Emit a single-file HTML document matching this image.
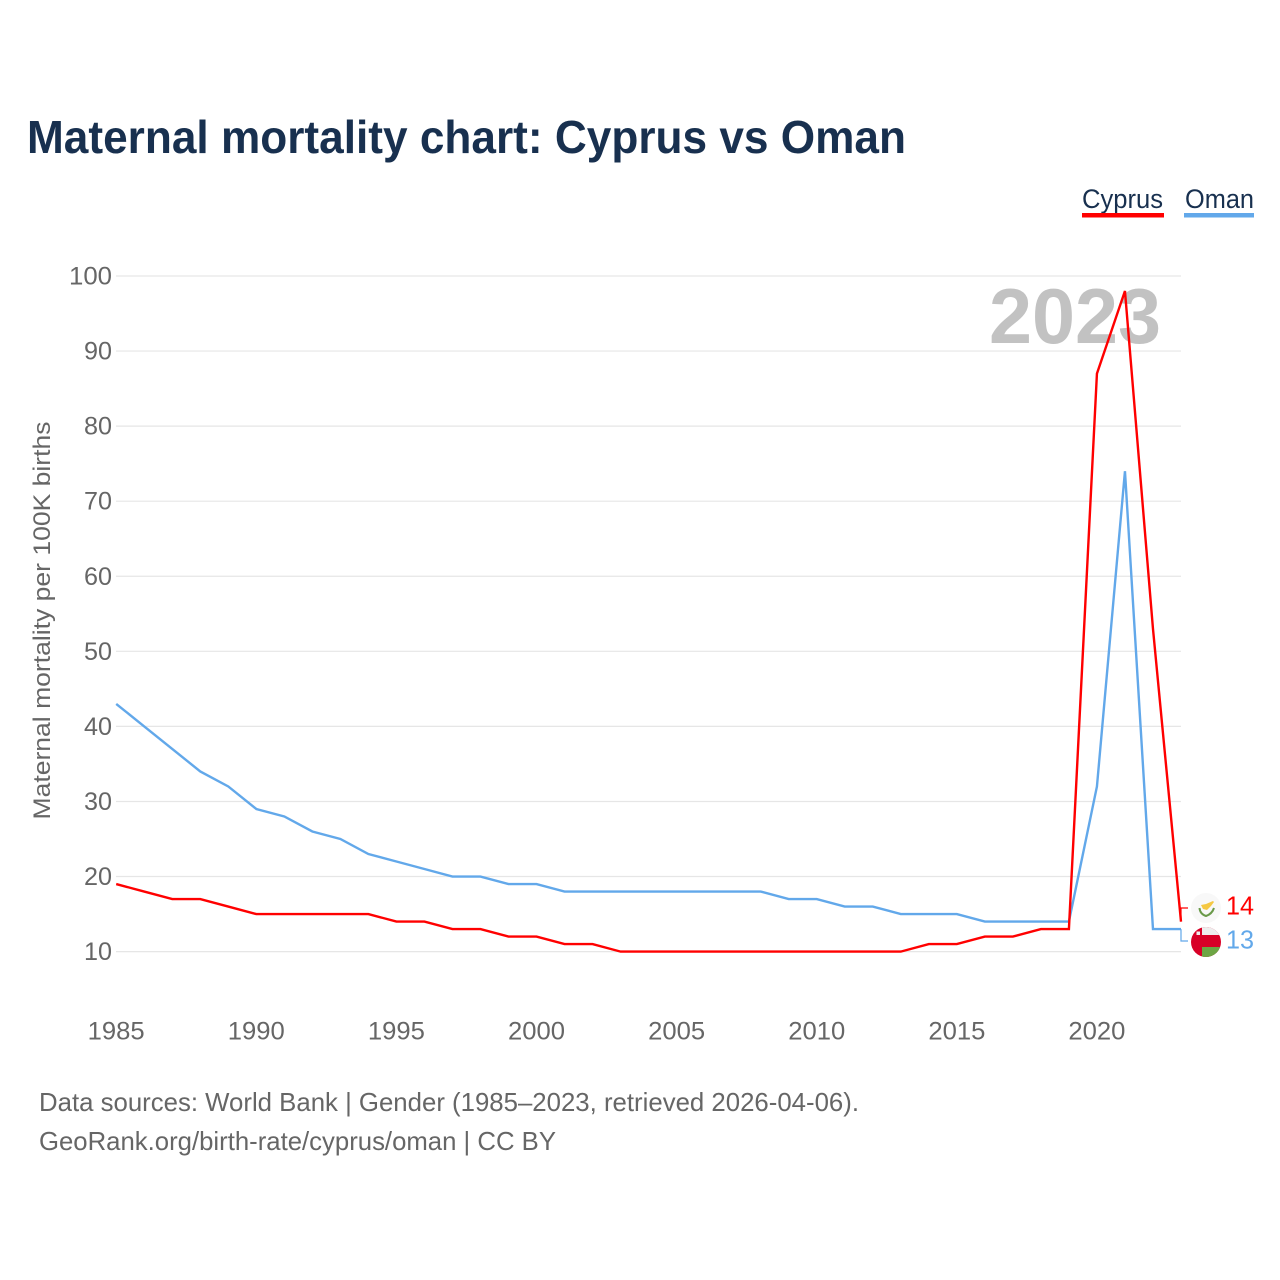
<!DOCTYPE html>
<html><head><meta charset="utf-8"><title>Maternal mortality chart</title>
<style>
html,body{margin:0;padding:0;background:#fff}
svg{display:block}
text{font-family:"Liberation Sans",sans-serif}
</style></head>
<body>
<svg id="chart" width="1280" height="1280" viewBox="0 0 1280 1280" xmlns="http://www.w3.org/2000/svg">
<rect width="1280" height="1280" fill="#fff"/>
<text x="27" y="153" font-size="46" font-weight="700" fill="#18304f" textLength="879" lengthAdjust="spacingAndGlyphs">Maternal mortality chart: Cyprus vs Oman</text>
<g id="grid"></g>
<g id="ticks"></g>
<text transform="translate(50,620.5) rotate(-90)" text-anchor="middle" font-size="24.5" fill="#666" textLength="398" lengthAdjust="spacingAndGlyphs">Maternal mortality per 100K births</text>
<text x="1161" y="343" text-anchor="end" font-size="78" font-weight="700" fill="#c2c2c2" textLength="172" lengthAdjust="spacingAndGlyphs">2023</text>
<g id="series"></g>
<g>
<text x="1082" y="208" font-size="27" fill="#18304f" textLength="81" lengthAdjust="spacingAndGlyphs">Cyprus</text>
<rect x="1082" y="213" width="82" height="4.5" fill="#ff0000"/>
</g>
<g>
<text x="1185" y="208" font-size="27" fill="#18304f" textLength="69" lengthAdjust="spacingAndGlyphs">Oman</text>
<rect x="1184" y="213" width="70" height="4.5" fill="#62a8ea"/>
</g>
<g id="endlabels">
<g>
<circle cx="1206" cy="908" r="15" fill="#f8f8f8"/>
<path d="M1201 905 L1206 904 L1213 901 L1214 902 L1211 906 L1207 910 L1203 909 Z" fill="#f5c842"/>
<path d="M1199.5 908 Q1200 914 1206 916 Q1212 914 1214 908" fill="none" stroke="#6a9a4a" stroke-width="2"/>
</g>
<g>
<clipPath id="oman-clip"><circle cx="1206" cy="942" r="15"/></clipPath>
<g clip-path="url(#oman-clip)">
<rect x="1191" y="927" width="30" height="30" fill="#d80027"/>
<rect x="1202" y="927" width="19" height="8" fill="#eeeeee"/>
<rect x="1202" y="947" width="19" height="10" fill="#6da544"/>
<rect x="1196.5" y="931.5" width="3.5" height="3.5" fill="#eeeeee"/>
</g>
</g>
<text x="1226" y="914.5" font-size="26" fill="#ff0000" textLength="28" lengthAdjust="spacingAndGlyphs">14</text>
<text x="1226" y="948.5" font-size="26" fill="#62a8ea" textLength="28" lengthAdjust="spacingAndGlyphs">13</text>
</g>
<text x="39" y="1111" font-size="26" fill="#666" textLength="820" lengthAdjust="spacingAndGlyphs">Data sources: World Bank | Gender (1985–2023, retrieved 2026-04-06).</text>
<text x="39" y="1150" font-size="26" fill="#666" textLength="517" lengthAdjust="spacingAndGlyphs">GeoRank.org/birth-rate/cyprus/oman | CC BY</text>
</svg>
<script>
const years = [1985,1986,1987,1988,1989,1990,1991,1992,1993,1994,1995,1996,1997,1998,1999,2000,2001,2002,2003,2004,2005,2006,2007,2008,2009,2010,2011,2012,2013,2014,2015,2016,2017,2018,2019,2020,2021,2022,2023];
const cyprusValues = [19,18,17,17,16,15,15,15,15,15,14,14,13,13,12,12,11,11,10,10,10,10,10,10,10,10,10,10,10,11,11,12,12,13,13,87,98,53,14];
const omanValues = [43,40,37,34,32,29,28,26,25,23,22,21,20,20,19,19,18,18,18,18,18,18,18,18,17,17,16,16,15,15,15,14,14,14,14,32,74,13,13];
const yTicks = [10,20,30,40,50,60,70,80,90,100];
const xTicks = [1985,1990,1995,2000,2005,2010,2015,2020];

const NS = 'http://www.w3.org/2000/svg';
const xScale = function (yr) { return 116.2 + (yr - 1985) * (1181 - 116.2) / 38; };
const yScale = function (v) { return 951.6 - (v - 10) * (951.6 - 276) / 90; };

const grid = document.getElementById('grid');
const ticks = document.getElementById('ticks');
yTicks.forEach(function (t) {
  const line = document.createElementNS(NS, 'line');
  line.setAttribute('x1', 116);
  line.setAttribute('x2', 1181);
  line.setAttribute('y1', yScale(t));
  line.setAttribute('y2', yScale(t));
  line.setAttribute('stroke', '#e6e6e6');
  line.setAttribute('stroke-width', 1.2);
  
  
  grid.appendChild(line);
  const label = document.createElementNS(NS, 'text');
  label.setAttribute('x', 112);
  label.setAttribute('y', yScale(t) + 8.5);
  label.setAttribute('text-anchor', 'end');
  label.setAttribute('font-size', 25);
  label.setAttribute('fill', '#666');
  label.setAttribute('textLength', t === 100 ? 43 : 28);
  label.setAttribute('lengthAdjust', 'spacingAndGlyphs');
  
  
  label.textContent = t;
  ticks.appendChild(label);
});
xTicks.forEach(function (t) {
  const label = document.createElementNS(NS, 'text');
  label.setAttribute('x', xScale(t));
  label.setAttribute('y', 1039.5);
  label.setAttribute('text-anchor', 'middle');
  label.setAttribute('font-size', 25);
  label.setAttribute('fill', '#666');
  label.setAttribute('textLength', 57);
  label.setAttribute('lengthAdjust', 'spacingAndGlyphs');
  
  
  label.textContent = t;
  ticks.appendChild(label);
});

const seriesGroup = document.getElementById('series');
function drawLine(values, color, name) {
  const path = document.createElementNS(NS, 'polyline');
  path.setAttribute('points', values.map(function (v, i) { return xScale(years[i]) + ',' + yScale(v); }).join(' '));
  path.setAttribute('fill', 'none');
  path.setAttribute('stroke', color);
  path.setAttribute('stroke-width', 2.4);
  path.setAttribute('stroke-linejoin', 'miter');
  
  
  seriesGroup.appendChild(path);
}
drawLine(omanValues, '#62a8ea', 'line-oman');
drawLine(cyprusValues, '#ff0000', 'line-cyprus');

function drawConnector(values, labelY, color, name) {
  const endX = xScale(years[years.length - 1]);
  const endY = yScale(values[values.length - 1]);
  const c = document.createElementNS(NS, 'polyline');
  c.setAttribute('points', endX + ',' + endY + ' ' + endX + ',' + labelY + ' ' + (endX + 7) + ',' + labelY);
  c.setAttribute('fill', 'none');
  c.setAttribute('stroke', color);
  c.setAttribute('stroke-width', 1.2);
  
  
  seriesGroup.appendChild(c);
}
drawConnector(cyprusValues, 908, '#ff0000', 'connector-cyprus');
drawConnector(omanValues, 941, '#62a8ea', 'connector-oman');
</script>
</body></html>
